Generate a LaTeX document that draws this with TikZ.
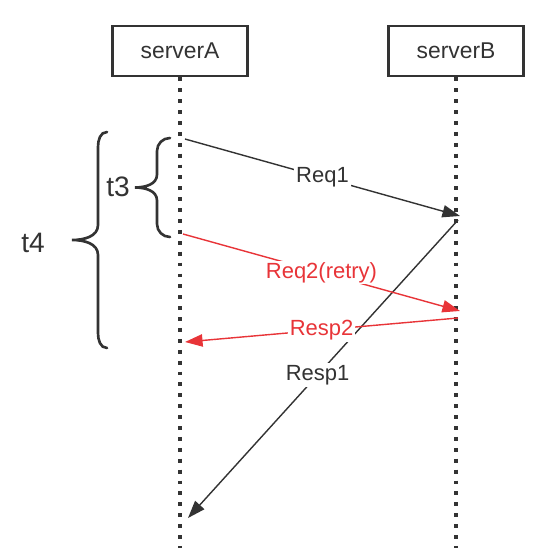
\documentclass[tikz,border=0pt]{standalone}
\usepackage{fontspec}
\setmainfont{Liberation Sans}
\usetikzlibrary{arrows.meta}
\definecolor{rojo}{RGB}{232,52,56}
\definecolor{gris}{RGB}{51,51,51}

\begin{document}
\begin{tikzpicture}[
		servidor/.style={draw=gris,line width=1.6pt,minimum width=2.7cm,minimum height=1cm,text=gris,font=\fontsize{13}{15}\selectfont},
		vida/.style={gris,line width=2.2pt,dash pattern=on 2.2pt off 4pt},
		msg/.style={-{Triangle[length=10pt,width=7pt]},line width=0.8pt},
		etiq/.style={fill=white,inner sep=1pt,font=\fontsize{12.5}{14}\selectfont},
		llave/.style={gris,line width=1.5pt,line cap=round},
		tiempo/.style={text=gris,font=\fontsize{16}{18}\selectfont}]
		\useasboundingbox (0,0) rectangle (11,11.1);
		\node[servidor] (A) at (3.6,10.08) {serverA}; %servidor A
		\node[servidor] (B) at (9.12,10.08) {serverB}; %servidor B
		\coordinate (A0) at (3.6,0.14); %fin de A
		\coordinate (B0) at (B.south |- A0); %fin de B
		\draw[vida] (A.south) -- (A0); %linea de vida A
		\draw[vida] (B.south) -- (B0); %linea de vida B
		\coordinate (req1a) at (3.7,8.32);
		\coordinate (req1b) at (9.2,6.78);
		\coordinate (resp1b) at (9.16,6.7);
		\coordinate (resp1a) at (3.76,0.74);
		\coordinate (req2a) at (3.66,6.42);
		\coordinate (req2b) at (9.2,4.88);
		\coordinate (resp2b) at (9.16,4.74);
		\coordinate (resp2a) at (3.7,4.26);
		\draw[msg,gris] (req1a) -- node[etiq,text=gris] (l1) {Req1} (req1b); %Req1
		\draw[msg,gris] (resp1b) -- node[etiq,text=gris,pos=0.52] (l2) {Resp1} (resp1a); %Resp1
		\draw[msg,rojo] (req2a) -- node[etiq,text=rojo] (l3) {Req2(retry)} (req2b); %Req2
		\draw[msg,rojo] (resp2b) -- node[etiq,text=rojo] (l4) {Resp2} (resp2a); %Resp2
		\draw[llave] (3.4,8.34) to[out=180,in=90] (3.14,8.08) -- (3.14,7.61) to[out=-90,in=0] (2.7,7.35)
			to[out=0,in=90] (3.14,7.09) -- (3.14,6.62) to[out=-90,in=180] (3.4,6.36); %llave t3
		\draw[llave] (2.14,8.46) to[out=180,in=90] (1.96,8.16) -- (1.96,6.6) to[out=-90,in=0] (1.44,6.3)
			to[out=0,in=90] (1.96,6.0) -- (1.96,4.44) to[out=-90,in=180] (2.14,4.14); %llave t4
		\node[tiempo] (t3) at (2.36,7.36) {t3}; %etiqueta t3
		\node[tiempo] (t4) at (0.66,6.24) {t4}; %etiqueta t4
\end{tikzpicture}
\end{document}
